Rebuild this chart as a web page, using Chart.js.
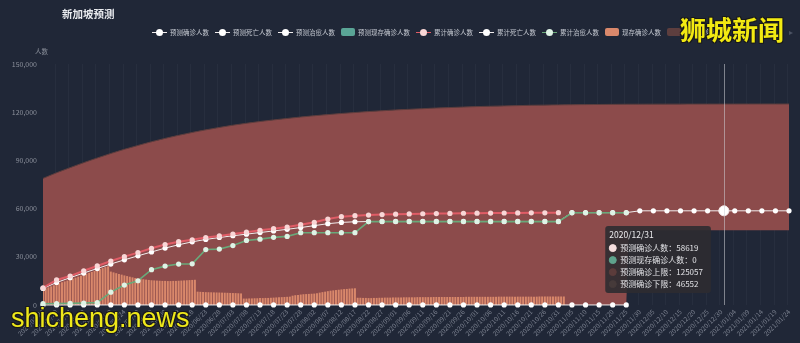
<!DOCTYPE html>
<html>
<head>
<meta charset="utf-8">
<script src="https://cdn.jsdelivr.net/npm/chart.js@4.4.1/dist/chart.umd.min.js"></script>
<style>
  html, body { margin: 0; padding: 0; background: #202737; width: 800px; height: 343px; overflow: hidden; }
  body { font-family: "Noto Sans CJK SC", "Noto Sans", sans-serif; }
  #wrap { position: relative; width: 800px; height: 343px; }
  #c { position: absolute; left: 0; top: 0; }
  .title { position: absolute; left: 62px; top: 9px; font-size: 10.5px; line-height: 10.5px; font-weight: 700; color: #e9ebef; }
  .yname { position: absolute; left: 35px; top: 48px; font-size: 6.5px; line-height: 6.5px; color: #8a8f9a; }
  #legend { position: absolute; left: 152px; top: 28px; height: 8px; display: flex; align-items: center; gap: 6px; }
  .li { display: flex; align-items: center; gap: 3px; font-size: 6.5px; line-height: 8px; color: #c6cad2; white-space: nowrap; }
  .ic-line { position: relative; width: 15px; height: 8px; }
  .ic-line i { position: absolute; left: 0; right: 0; top: 3.5px; height: 1px; }
  .ic-line b { position: absolute; left: 4px; top: 0.5px; width: 7px; height: 7px; border-radius: 50%; }
  .ic-rect { width: 14px; height: 8px; border-radius: 2px; }
  .pager { position: absolute; left: 789px; top: 27px; font-size: 8px; line-height: 9px; color: #4c5363; }
  .wm1 { position: absolute; left: 680px; top: 16px; font-size: 26px; line-height: 26px; font-weight: 700; color: #f2ea12;
         text-shadow: 1px 1px 0 #1a1a1a, -1px -1px 0 #1a1a1a, 1px -1px 0 #1a1a1a, -1px 1px 0 #1a1a1a; }
  .wm2 { position: absolute; left: 11px; top: 305px; font-family: "Liberation Sans", Arial, sans-serif; font-size: 27px; line-height: 27px; color: #eee81a;
         text-shadow: 1px 1px 0 #1a1a1a, -1px -1px 0 #1a1a1a, 1px -1px 0 #1a1a1a, -1px 1px 0 #1a1a1a; }
</style>
</head>
<body>
<div id="wrap">
  <canvas id="c" width="800" height="343"></canvas>
  <div class="title">新加坡预测</div>
  <div class="yname">人数</div>
  <div id="legend"></div>
  <div class="pager">▸</div>
  <div class="wm1">狮城新闻</div>
  <div class="wm2">shicheng.news</div>
</div>
<script>
// ---- categories: one label per day, 2020/04/24 .. 2021/01/24 ----
const FIRST_DAY = Date.UTC(2020, 3, 24);
const DAY_COUNT = 276;
const dates = [];
for (let i = 0; i < DAY_COUNT; i++) {
  const d = new Date(FIRST_DAY + i * 86400000);
  dates.push(d.getUTCFullYear() + '/' + String(d.getUTCMonth() + 1).padStart(2, '0') + '/' + String(d.getUTCDate()).padStart(2, '0'));
}
const FOCUS_DAY = '2020/12/31';

// ---- y axis ticks ----
const yTicks = [0, 30000, 60000, 90000, 120000, 150000];

// ---- series (line series are sampled every 5 days from 2020/04/24) ----
const cumConfirmed = [10600, 15600, 18000, 21300, 24300, 27400, 30100, 32600, 35300, 37600, 39400, 40600, 42000,
  43000, 44200, 45300, 46500, 47500, 48500, 50000, 51500, 53500, 55000, 55600, 56000, 56300, 56500, 56700, 56800,
  56900, 57000, 57100, 57150, 57200, 57250, 57300, 57350, 57400, 57450];

const predConfirmed = [10300, 14000, 17000, 19900, 22700, 25500, 28100, 30600, 33000, 35400, 37500, 39300, 40800,
  42000, 43100, 44100, 45100, 46100, 47100, 48200, 49400, 50600, 51400, 51800, 51950,
  52000, 52000, 52000, 52000, 52000, 52000, 52000, 52000, 52000, 52000, 52000, 52000, 52000, 52000,
  57500, 57500, 57500, 57500, 57500,
  58619, 58619, 58619, 58619, 58619, 58619, 58619, 58619, 58619, 58619, 58619, 58619];
const predConfirmedFocus = 58619;

const cumRecovered = [800, 900, 1000, 1200, 1500, 8000, 12400, 15100, 22000, 24200, 25500, 25600, 34500, 34800,
  37000, 40200, 41000, 42100, 42700, 45000, 45000, 45000, 45000, 45000, 51900,
  51900, 51900, 51900, 51900, 51900, 51900, 51900, 51900, 51900, 51900, 51900, 51900, 51900, 51900,
  57400, 57400, 57400, 57400, 57400];

const cumDeaths = [12, 14, 17, 18, 20, 21, 22, 23, 23, 24, 24,
  25, 25, 25, 26, 26, 26, 26, 27, 27, 27, 27,
  27, 27, 27, 27, 27, 27, 27, 27, 27, 27, 27,
  28, 28, 28, 28, 28, 28, 28, 28, 28, 28, 29];

// active cases, one value per day from 2020/04/24
const activeCases = [
  9800, 10400, 11000, 11600, 12300, 12900, 13500, 14100, 14700, 15200, 15800, 16400, 17000, 17600, 18200, 18800,
  19400, 20000, 20600, 21200, 21800, 22400, 23000, 23600, 24100,
  20800, 20300, 19800, 19300, 18900, 18400, 18000, 17600, 17200, 16800, 16400, 16200, 16000, 15800, 15600, 15400,
  15300, 15200, 15100, 15000, 15000, 14900, 14900, 15000, 15000, 15100, 15200, 15300, 15400, 15500, 15600, 15700,
  8300, 8200, 8100, 8000, 7950, 7900, 7850, 7800, 7750, 7700, 7650, 7600, 7500, 7450, 7400, 7300, 7200,
  4000, 4000, 4100, 4100, 4200, 4200, 4300, 4300, 4400, 4400, 4500, 4600, 4700, 4800, 4900, 5000, 5100, 5200,
  5800, 6100, 6300, 6500, 6700, 6800, 6900, 7000, 7100, 7300,
  7700, 8000, 8300, 8600, 8900, 9100, 9300, 9500, 9700, 9900, 10000, 10200, 10300, 10400,
  4500, 4500, 4400, 4400, 4300, 4300, 4400, 4400, 4500, 4500,
  4600, 4600, 4600, 4700, 4700, 4700, 4700, 4800, 4800, 4800,
  4800, 4800, 4900, 4900, 4900, 4900, 4900, 4900, 5000, 5000,
  5000, 5000, 5000, 5000, 5000, 5000, 5000, 5000, 5000, 5000,
  5100, 5100, 5100, 5100, 5100, 5100, 5100, 5100, 5100, 5100,
  5100, 5100, 5200, 5200, 5200, 5200, 5200, 5200, 5200, 5200,
  5200, 5200, 5200, 5200, 5200, 5200, 5200, 5300, 5300, 5300,
  5300, 5300, 5300, 5300, 5300, 5300, 5300];

// forecast band
const upperBound = [78800, 82300, 85500, 88600, 91500, 94300, 96900, 99300, 101600, 103700, 105600, 107400, 109000,
  110500, 111900, 113100, 114200, 115200, 116100, 117000, 117800, 118500, 119200, 119800, 120400, 120900, 121400,
  121800, 122200, 122600, 122900, 123200, 123500, 123700, 123900, 124100, 124300, 124400, 124550, 124650, 124750,
  124820, 124880, 124930, 124960, 124990, 125010, 125025, 125035, 125045, 125055, 125065, 125075, 125085, 125090,
  125095];
const upperBoundFocus = 125057;
const lowerBoundDays = ['2020/04/24', '2020/11/25', '2020/11/26', FOCUS_DAY, '2021/01/24'];
const lowerBound = [0, 0, 46552, 46552, 46552];
const predActiveDays = ['2020/11/26', FOCUS_DAY, '2021/01/24'];
const predActive = [0, 0, 0];

// ---- helpers ----
const dayIndex = new Map(dates.map((d, i) => [d, i]));
const every5 = (values) => values.map((v, i) => ({ x: dates[i * 5], y: v }));
const onDays = (days, values) => days.map((d, i) => ({ x: d, y: values[i] }));
const withPoint = (pts, day, v) => pts.concat([{ x: day, y: v }]).sort((a, b) => dayIndex.get(a.x) - dayIndex.get(b.x));
const markerRadius = (r) => (ctx) => (ctx.raw && dayIndex.get(ctx.raw.x) % 5 === 0 ? r : 0);

const FONT = '"Noto Sans CJK SC", "Noto Sans", sans-serif';
Chart.defaults.font.family = FONT;

function lineSet(label, data, line, dot, width, order) {
  return {
    type: 'line', label, data, order,
    borderColor: line, borderWidth: width,
    pointBackgroundColor: dot, pointBorderColor: dot, pointBorderWidth: 0,
    pointRadius: markerRadius(2.6), pointHoverRadius: 0,
    fill: false, tension: 0, clip: 6
  };
}

const datasets = [
  Object.assign(lineSet('预测确诊人数', withPoint(every5(predConfirmed), FOCUS_DAY, predConfirmedFocus), '#f1eded', '#ffffff', 1, 4),
    { pointHoverRadius: 5, pointHoverBackgroundColor: '#ffffff', pointHoverBorderColor: '#f4e9e9', pointHoverBorderWidth: 1, tipColor: '#f6dede' }),
  lineSet('预测死亡人数', [], '#f1eded', '#ffffff', 1, 5),
  lineSet('预测治愈人数', [], '#f1eded', '#ffffff', 1, 5),
  { type: 'line', label: '预测现存确诊人数', data: onDays(predActiveDays, predActive), order: 7,
    borderColor: '#5aa596', backgroundColor: '#5aa596', borderWidth: 0, pointRadius: 0, pointHoverRadius: 0,
    fill: 'origin', tipColor: '#5fa38d' },
  lineSet('累计确诊人数', every5(cumConfirmed), '#e05c66', '#f8d6d6', 2, 3),
  lineSet('累计死亡人数', every5(cumDeaths), '#f1eded', '#ffffff', 1, 5),
  lineSet('累计治愈人数', every5(cumRecovered), '#69a97a', '#dff3e6', 1.6, 2),
  { type: 'bar', label: '现存确诊人数', data: activeCases, order: 9,
    backgroundColor: '#d9886b', barPercentage: 0.72, categoryPercentage: 1 },
  { type: 'line', label: '预测确诊上限', data: withPoint(every5(upperBound), FOCUS_DAY, upperBoundFocus), order: 10,
    borderColor: '#5d3e3e', borderWidth: 1, backgroundColor: '#8c4b4b', pointRadius: 0, pointHoverRadius: 0,
    fill: 9, cubicInterpolationMode: 'monotone', tipColor: '#5b3c3b' },
  { type: 'line', label: '预测确诊下限', data: onDays(lowerBoundDays, lowerBound), order: 11,
    borderColor: 'rgba(0,0,0,0)', borderWidth: 0, pointRadius: 0, pointHoverRadius: 0, fill: false,
    tipColor: '#463a3a', inLegend: false }
];

// tooltip pinned just left of the axis pointer
Chart.Tooltip.positioners.pinned = function () {
  const x = this.chart.scales.x.getPixelForValue(dayIndex.get(FOCUS_DAY));
  return { x: x - 13, y: 259.5, xAlign: 'right', yAlign: 'center' };
};

// vertical axis pointer at the focused day
const axisPointer = {
  id: 'axisPointer',
  afterDatasetsDraw(chart) {
    const { ctx, chartArea } = chart;
    const x = Math.round(chart.scales.x.getPixelForValue(dayIndex.get(FOCUS_DAY))) + 0.5;
    ctx.save();
    ctx.strokeStyle = 'rgba(205,208,214,0.55)';
    ctx.lineWidth = 1;
    ctx.beginPath();
    ctx.moveTo(x, chartArea.top);
    ctx.lineTo(x, chartArea.bottom);
    ctx.stroke();
    ctx.restore();
  }
};

const chart = new Chart(document.getElementById('c'), {
  data: { labels: dates, datasets },
  options: {
    responsive: false,
    animation: false,
    events: [],
    layout: { padding: { top: 64, right: 11, left: 0, bottom: 0 } },
    plugins: {
      legend: { display: false },
      title: { display: false },
      tooltip: {
        position: 'pinned',
        caretSize: 0, caretPadding: 0, cornerRadius: 3,
        backgroundColor: 'rgba(46,44,49,0.9)',
        multiKeyBackground: 'rgba(0,0,0,0)',
        padding: { left: 4, right: 8, top: 4, bottom: 4 },
        titleFont: { family: FONT, size: 8.5, weight: 'normal' }, titleColor: '#e9e9ec', titleMarginBottom: 3,
        bodyFont: { family: FONT, size: 8 }, bodyColor: '#e2e2e6', bodySpacing: 2.4,
        usePointStyle: true, boxWidth: 7, boxHeight: 7, boxPadding: 2,
        callbacks: {
          title: (items) => items[0].label,
          label: (c) => c.dataset.label + '：' + c.raw.y,
          labelColor: (c) => ({ borderColor: c.dataset.tipColor, backgroundColor: c.dataset.tipColor, borderWidth: 0 }),
          labelPointStyle: () => ({ pointStyle: 'circle', rotation: 0 })
        }
      }
    },
    scales: {
      x: {
        type: 'category', offset: false,
        border: { display: false },
        grid: { drawTicks: false, lineWidth: 1, color: (c) => (c.index % 5 === 0 ? 'rgba(255,255,255,0.035)' : 'rgba(0,0,0,0)') },
        ticks: {
          autoSkip: false, minRotation: 45, maxRotation: 45, padding: 3,
          color: '#7c8290', font: { size: 6.5 },
          callback: (v, i) => (i % 5 === 0 ? dates[i] : '')
        },
        afterFit: (s) => { s.height = 38; }
      },
      y: {
        min: yTicks[0], max: yTicks[yTicks.length - 1],
        border: { display: false },
        grid: { display: false, drawTicks: false },
        afterBuildTicks: (s) => { s.ticks = yTicks.map((v) => ({ value: v })); },
        ticks: { color: '#8b909b', font: { size: 7 }, padding: 6, callback: (v) => v.toLocaleString('en-US') },
        afterFit: (s) => { s.width = 43; }
      }
    }
  },
  plugins: [axisPointer]
});

// show the focused day's readout
const focusIdx = (di) => chart.data.datasets[di].data.findIndex((p) => p && p.x === FOCUS_DAY);
const shown = [0, 3, 8, 9].map((di) => ({ datasetIndex: di, index: focusIdx(di) }));
chart.setActiveElements([shown[0]]);
chart.tooltip.setActiveElements(shown, { x: 700, y: 260 });
chart.update();

// legend built from the datasets
const legendEl = document.getElementById('legend');
chart.data.datasets.forEach((ds) => {
  if (ds.inLegend === false) return;
  const item = document.createElement('div');
  item.className = 'li';
  const icon = document.createElement('span');
  if (ds.type === 'line' && !ds.fill) {
    icon.className = 'ic-line';
    const ln = document.createElement('i'); ln.style.background = ds.borderColor;
    const dot = document.createElement('b'); dot.style.background = ds.pointBackgroundColor;
    icon.appendChild(ln); icon.appendChild(dot);
  } else {
    icon.className = 'ic-rect';
    icon.style.background = ds.type === 'bar' ? ds.backgroundColor : ds.borderColor;
  }
  const txt = document.createElement('span');
  txt.textContent = ds.label;
  item.appendChild(icon); item.appendChild(txt);
  legendEl.appendChild(item);
});
</script>
</body>
</html>
